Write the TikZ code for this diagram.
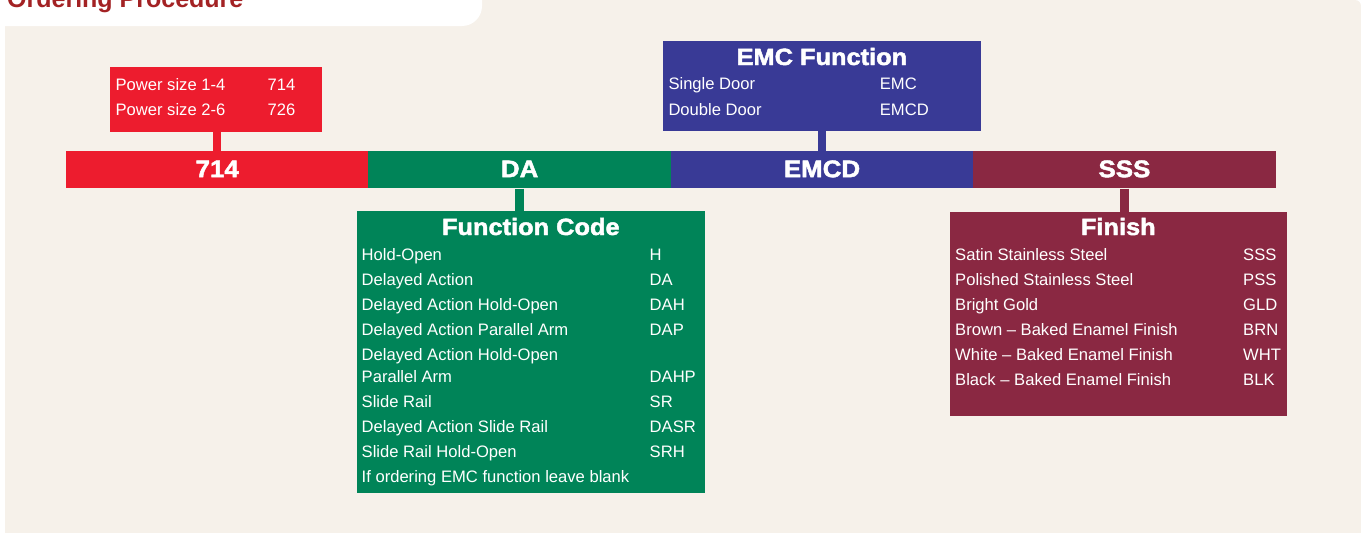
\documentclass[tikz,border=0pt]{standalone}
\usepackage{fontspec}
\setmainfont{Liberation Sans}
\newfontfamily\heavyfont[FakeStretch=1.08,FakeBold=2]{Liberation Sans Bold}
\definecolor{panelbg}{RGB}{246,241,234}
\definecolor{titlered}{RGB}{163,34,36}
\definecolor{cred}{RGB}{237,28,46}
\definecolor{cgreen}{RGB}{0,132,88}
\definecolor{cblue}{RGB}{57,58,150}
\definecolor{cmaroon}{RGB}{138,40,66}
\begin{document}
\begin{tikzpicture}[x=1pt,y=-1pt,
  bar/.style={minimum width=302.4pt, minimum height=37.5pt, inner sep=0pt,
    text=white, font=\heavyfont\fontsize{24}{24}\selectfont,
    text height=17.2pt, text depth=2.2pt},
  infobox/.style={anchor=north west, inner sep=0pt, minimum width=#1},
  boxtitle/.style={anchor=base, inner sep=0pt, text=white,
    font=\heavyfont\fontsize{23.5}{24}\selectfont},
  row/.style={anchor=base west, inner sep=0pt, text=white,
    font=\fontsize{16.6}{18}\selectfont},
  conn/.style={line width=8.5pt}
]
\useasboundingbox (0,0) rectangle (1361,533);

% page panel and heading tab
\fill[panelbg, rounded corners=6pt] (5,0) rectangle (1361,545);
\fill[white, rounded corners=20pt] (-30,-40) rectangle (482,26);
\node[anchor=base west, inner sep=0pt, text=titlered,
  font=\bfseries\fontsize{25}{26}\selectfont] (title) at (7,7) {Ordering Procedure};

% order code bar
\node[bar, fill=cred]    (b714)  at (217.2,169.7)  {714};
\node[bar, fill=cgreen]  (bda)   at (519.6,169.7)  {DA};
\node[bar, fill=cblue]   (bemcd) at (822.0,169.7)  {EMCD};
\node[bar, fill=cmaroon] (bsss)  at (1124.4,169.7) {SSS};

% option boxes
\node[infobox=211.7pt, minimum height=65pt, fill=cred]     (pwr) at (110,66.7)   {};
\node[infobox=318.3pt, minimum height=89.7pt, fill=cblue]   (emc) at (662.7,41)   {};
\node[infobox=348.3pt, minimum height=282pt, fill=cgreen]   (fnc) at (356.7,210.7) {};
\node[infobox=336.7pt, minimum height=204.3pt, fill=cmaroon] (fin) at (950,211.7)  {};

% links between bar segments and boxes
\draw[conn, cred]    (b714.north)  -- (b714.north |- pwr.south);
\draw[conn, cblue]   (bemcd.north) -- (bemcd.north |- emc.south);
\draw[conn, cgreen]  (bda.south)   -- (bda.south |- fnc.north);
\draw[conn, cmaroon] (bsss.south)  -- (bsss.south |- fin.north);

% power size
\node[row] (p1) at (115.4,90.7) {Power size 1-4};
\node[row] (p1c) at (267.5,90.7) {714};
\node[row] (p2) at (115.4,115.5) {Power size 2-6};
\node[row] (p2c) at (267.5,115.5) {726};

% EMC function
\node[boxtitle] (emct) at (821.9,65) {EMC Function};
\node[row] (e1) at (668.3,89) {Single Door};
\node[row] (e1c) at (879.7,89) {EMC};
\node[row] (e2) at (668.3,115) {Double Door};
\node[row] (e2c) at (879.7,115) {EMCD};

% function code
\node[boxtitle] (fnct) at (530.8,235) {Function Code};
\foreach \txt/\code/\yy [count=\i] in {
  Hold-Open/H/260,
  Delayed Action/DA/285,
  Delayed Action Hold-Open/DAH/310,
  Delayed Action Parallel Arm/DAP/335,
  Delayed Action Hold-Open//360,
  Parallel Arm/DAHP/382.5,
  Slide Rail/SR/407.5,
  Delayed Action Slide Rail/DASR/432.5,
  Slide Rail Hold-Open/SRH/457.5,
  If ordering EMC function leave blank//482.5}{
  \node[row] (f\i) at (361.5,\yy) {\txt};
  \node[row] (fc\i) at (649.5,\yy) {\code};
}

% finish
\node[boxtitle] (fint) at (1118.3,235) {Finish};
\foreach \txt/\code/\yy [count=\i] in {
  Satin Stainless Steel/SSS/260,
  Polished Stainless Steel/PSS/285,
  Bright Gold/GLD/310,
  Brown – Baked Enamel Finish/BRN/335,
  White – Baked Enamel Finish/WHT/360,
  Black – Baked Enamel Finish/BLK/385}{
  \node[row] (s\i) at (955,\yy) {\txt};
  \node[row] (sc\i) at (1243,\yy) {\code};
}
\end{tikzpicture}
\end{document}
